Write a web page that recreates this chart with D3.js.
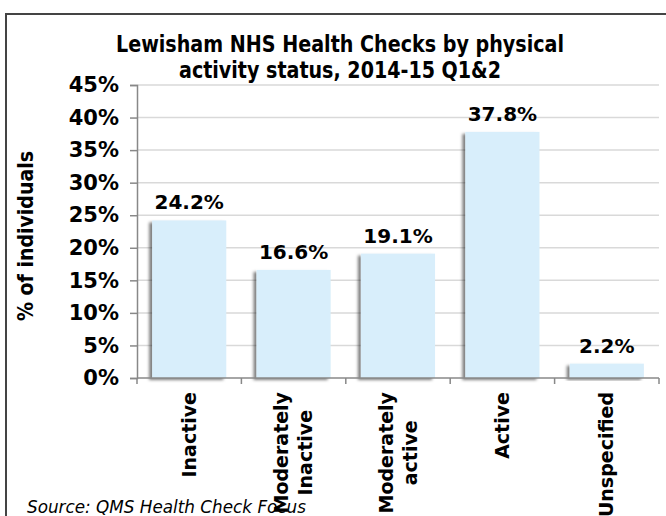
<!DOCTYPE html>
<html><head><meta charset="utf-8">
<script src="https://cdn.jsdelivr.net/npm/d3@7"></script>
<style>
html,body{margin:0;padding:0;background:#fff;}
svg{display:block;}
text{font-family:"DejaVu Sans",Verdana,sans-serif;fill:#000;}
</style></head>
<body>
<svg id="chart" width="666" height="516"></svg>
<script>
const categories = ["Inactive", "Moderately\nInactive", "Moderately\nactive", "Active", "Unspecified"];
const values = [24.2, 16.6, 19.1, 37.8, 2.2];
const valueLabels = ["24.2%", "16.6%", "19.1%", "37.8%", "2.2%"];
const yTicks = [0, 5, 10, 15, 20, 25, 30, 35, 40, 45];
const titleLines = ["Lewisham NHS Health Checks by physical", "activity status, 2014-15 Q1&2"];
const yTitle = "% of individuals";
const sourceText = "Source:  QMS Health Check Focus";

const svg = d3.select("#chart");
const m = {left:137, right:659, top:85, bottom:378};

function fit(sel, w){
  sel.each(function(){
    const n = this.getComputedTextLength();
    if (n > w) { d3.select(this).attr("textLength", w).attr("lengthAdjust","spacingAndGlyphs"); }
  });
}

const defs = svg.append("defs");
const f = defs.append("filter").attr("id","sh").attr("x","-30%").attr("y","-10%").attr("width","160%").attr("height","130%");
f.append("feDropShadow").attr("dx",-3).attr("dy",2).attr("stdDeviation",1.5)
  .attr("flood-color","#000").attr("flood-opacity",0.5);

// outer border
svg.append("rect").attr("x",6).attr("y",14).attr("width",700).attr("height",560)
  .attr("fill","none").attr("stroke","#444").attr("stroke-width",2);

const x = d3.scaleBand().domain(categories).range([m.left, m.right]).paddingInner(0.29).paddingOuter(0.145);
const y = d3.scaleLinear().domain([0,45]).range([m.bottom, m.top]);

// gridlines
svg.append("g").selectAll("line").data(yTicks.filter(d=>d>0)).join("line")
  .attr("x1",m.left).attr("x2",m.right).attr("y1",d=>y(d)).attr("y2",d=>y(d))
  .attr("stroke","#d9d9d9").attr("stroke-width",1.5);

// bars
svg.append("g").selectAll("rect").data(values).join("rect")
  .attr("x",(d,i)=>x(categories[i])).attr("width",x.bandwidth())
  .attr("y",d=>y(d)).attr("height",d=>y(0)-y(d))
  .attr("fill","#d8eefb").attr("filter","url(#sh)");

// y axis
const ya = svg.append("g").attr("transform",`translate(${m.left},0)`)
  .call(d3.axisLeft(y).tickValues(yTicks).tickFormat(d=>d+"%").tickSize(7).tickPadding(11));
ya.select(".domain").attr("stroke","#888").attr("stroke-width",1.5);
ya.selectAll(".tick line").attr("stroke","#888").attr("stroke-width",1.5);
ya.selectAll(".tick text").attr("font-size",21).attr("font-weight","bold")
  .attr("font-family",'"DejaVu Sans",Verdana,sans-serif').attr("fill","#000");

// x axis (ticks at category boundaries)
const xa = svg.append("g").attr("transform",`translate(0,${m.bottom})`);
xa.append("line").attr("x1",m.left).attr("x2",m.right).attr("stroke","#888").attr("stroke-width",1.5);
const bounds = categories.map(c=>x(c) - x.step()*x.paddingInner()/2).concat([m.right]);
xa.selectAll("line.t").data(bounds).join("line").attr("class","t")
  .attr("x1",d=>d).attr("x2",d=>d).attr("y1",0).attr("y2",6).attr("stroke","#888").attr("stroke-width",1.5);

// category labels (rotated)
categories.forEach((c,i)=>{
  const lines = c.split("\n");
  const cx = x(c) + x.bandwidth()/2;
  const g = svg.append("g");
  const ts = lines.map((ln,j)=> g.append("text").text(ln)
    .attr("font-size",19).attr("font-weight","bold").attr("text-anchor","middle").attr("dy","0.35em"));
  const widths = ts.map(t=>t.node().getComputedTextLength());
  const L = d3.max(widths);
  const cy = 392 + L/2;
  ts.forEach((t,j)=>{
    const lx = cx + (j - (lines.length-1)/2)*24;
    t.attr("transform",`translate(${lx},${cy}) rotate(-90)`);
  });
});

// value labels
svg.append("g").selectAll("text").data(values).join("text")
  .attr("x",(d,i)=>x(categories[i])+x.bandwidth()/2).attr("y",d=>y(d)-11)
  .attr("text-anchor","middle").attr("font-size",20).attr("font-weight","bold")
  .text((d,i)=>valueLabels[i]);

// y title
svg.append("text").attr("transform","translate(33,236) rotate(-90)")
  .attr("text-anchor","middle").attr("font-size",21).attr("font-weight","bold")
  .text(yTitle).call(fit,170);

// title
svg.append("g").selectAll("text").data(titleLines).join("text")
  .attr("x",340).attr("y",(d,i)=>52+i*26).attr("text-anchor","middle")
  .attr("font-size",23).attr("font-weight","bold").text(d=>d)
  .each(function(d,i){ d3.select(this).call(fit, i===0?448:322); });

// source
svg.append("text").attr("x",27).attr("y",513).attr("font-size",18).attr("font-style","italic")
  .text(sourceText).call(fit,279);
</script>
</body></html>
